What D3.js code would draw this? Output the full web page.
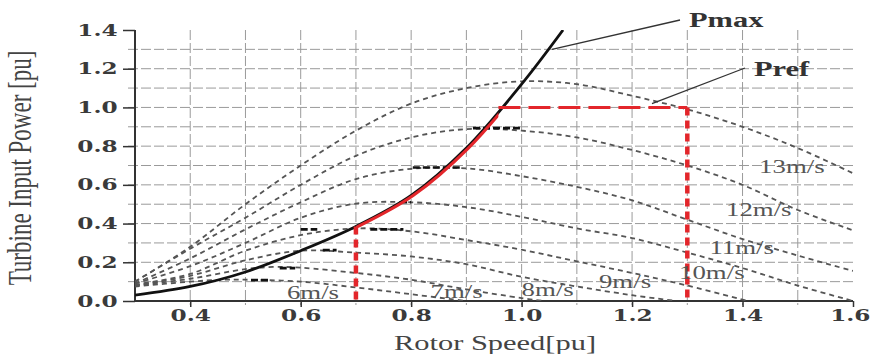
<!DOCTYPE html>
<html>
<head>
<meta charset="utf-8">
<script src="https://cdn.jsdelivr.net/npm/d3@7/dist/d3.min.js"></script>
<style>
  body { margin: 0; background: #fff; }
</style>
</head>
<body>
<div id="chart"></div>
<script>
// power curves: [rotor speed pu, power pu]
const v6 = [[0.3, 0.075], [0.4, 0.10], [0.46, 0.11], [0.5, 0.11], [0.6, 0.10], [0.7, 0.07], [0.8, 0.035], [0.9, 0]];
const v7 = [[0.3, 0.08], [0.4, 0.115], [0.5, 0.165], [0.55, 0.176], [0.6, 0.172], [0.7, 0.145], [0.8, 0.11], [0.9, 0.06], [1.0, 0.015], [1.04, 0]];
const v8 = [[0.3, 0.08], [0.4, 0.13], [0.5, 0.21], [0.6, 0.26], [0.7, 0.25], [0.8, 0.23], [0.9, 0.19], [1.0, 0.125], [1.1, 0.075], [1.2, 0.03], [1.28, 0]];
const v9 = [[0.3, 0.085], [0.4, 0.14], [0.5, 0.26], [0.6, 0.34], [0.7, 0.375], [0.8, 0.36], [0.9, 0.315], [1.0, 0.265], [1.1, 0.205], [1.2, 0.145], [1.3, 0.08], [1.41, 0]];
const v10 = [[0.3, 0.09], [0.4, 0.18], [0.5, 0.30], [0.6, 0.43], [0.7, 0.503], [0.8, 0.51], [0.9, 0.485], [1.0, 0.435], [1.1, 0.375], [1.2, 0.325], [1.3, 0.25], [1.4, 0.17], [1.5, 0.08], [1.6, 0]];
const v11 = [[0.3, 0.09], [0.4, 0.22], [0.5, 0.37], [0.6, 0.51], [0.7, 0.63], [0.8, 0.683], [0.9, 0.685], [1.0, 0.645], [1.1, 0.59], [1.2, 0.52], [1.3, 0.42], [1.4, 0.32], [1.5, 0.235], [1.6, 0.155]];
const v12 = [[0.3, 0.10], [0.4, 0.27], [0.5, 0.43], [0.6, 0.60], [0.7, 0.75], [0.8, 0.845], [0.9, 0.888], [1.0, 0.88], [1.1, 0.845], [1.2, 0.78], [1.3, 0.70], [1.4, 0.60], [1.5, 0.47], [1.6, 0.365]];
const v13 = [[0.3, 0.10], [0.4, 0.28], [0.5, 0.50], [0.6, 0.70], [0.7, 0.88], [0.8, 1.02], [0.9, 1.10], [1.0, 1.135], [1.1, 1.12], [1.2, 1.06], [1.3, 0.99], [1.4, 0.90], [1.5, 0.79], [1.6, 0.66]];
const pmax = [[0.3, 0.03], [0.4, 0.075], [0.5, 0.15], [0.6, 0.26], [0.7, 0.385], [0.8, 0.545], [0.9, 0.79], [1.0, 1.12], [1.075, 1.4]];

// darker dashes near each curve top: [from speed, to speed, power]
const peakMarks = [[0.51, 0.545, 0.108], [0.562, 0.59, 0.17], [0.64, 0.665, 0.263], [0.60, 0.63, 0.37], [0.726, 0.786, 0.37], [0.78, 0.80, 0.51], [0.803, 0.888, 0.69], [0.912, 0.997, 0.893]];

const windNames = ['6m/s', '7m/s', '8m/s', '9m/s', '10m/s', '11m/s', '12m/s', '13m/s'];
const windLabelAt = [[0.575, 0.01], [0.835, 0.015], [1.0, 0.026], [1.14, 0.067], [1.285, 0.114], [1.34, 0.243], [1.37, 0.44], [1.43, 0.66]];

const lowSpeed = 0.7;     // red vertical at start of tracking
const refSpeed = 1.3;     // red vertical at rated point
const prefLevel = 1.0;    // red horizontal Pref
const prefStart = 0.958;

const xTicks = [0.4, 0.6, 0.8, 1.0, 1.2, 1.4, 1.6];
const yTicks = [0.0, 0.2, 0.4, 0.6, 0.8, 1.0, 1.2, 1.4];
const xGrid = [0.4, 0.5, 0.6, 0.7, 0.8, 0.9, 1.0, 1.1, 1.2, 1.3, 1.4, 1.5];
const yGrid = [0.1, 0.2, 0.3, 0.4, 0.5, 0.6, 0.7, 0.8, 0.9, 1.0, 1.1, 1.2, 1.3];

const W = 872, H = 354;
const stretch = 1.45; // the picture is widened, text too

const svg = d3.select('#chart').append('svg').attr('width', W).attr('height', H);

const x = d3.scaleLinear().domain([0.3, 1.6]).range([135, 853]);
const y = d3.scaleLinear().domain([0, 1.4]).range([301, 30]);

const defs = svg.append('defs');
defs.append('clipPath').attr('id', 'plot')
  .append('rect').attr('x', x(0.3)).attr('y', y(1.4)).attr('width', x(1.6) - x(0.3)).attr('height', y(0) - y(1.4));
defs.append('clipPath').attr('id', 'track')
  .append('rect').attr('x', x(lowSpeed)).attr('y', y(1.4)).attr('width', x(prefStart) - x(lowSpeed)).attr('height', y(0) - y(1.4));

// grid
const grid = svg.append('g');
grid.selectAll('line.h').data(yGrid).enter().append('line')
  .attr('x1', x(0.3) - 7).attr('x2', x(1.6) + 2)
  .attr('y1', d => y(d)).attr('y2', d => y(d))
  .attr('stroke', '#9a9a9a').attr('stroke-width', 1).attr('stroke-dasharray', '10,3');
grid.selectAll('line.v').data(xGrid).enter().append('line')
  .attr('x1', d => x(d)).attr('x2', d => x(d))
  .attr('y1', y(1.4)).attr('y2', y(0) + 4)
  .attr('stroke', '#9a9a9a').attr('stroke-width', 1).attr('stroke-dasharray', '10,3');

// axes
const yAxis = svg.append('g').attr('transform', `translate(${x(0.3)},0)`)
  .call(d3.axisLeft(y).tickValues(yTicks).tickSize(12).tickFormat(d3.format('.1f')));
const xAxis = svg.append('g').attr('transform', `translate(0,${y(0)})`)
  .call(d3.axisBottom(x).tickValues(xTicks).tickSize(6).tickFormat(d3.format('.1f')));

[yAxis, xAxis].forEach(a => {
  a.select('.domain').attr('stroke', '#333').attr('stroke-width', 2);
  a.selectAll('.tick line').attr('stroke', '#333').attr('stroke-width', 1.5);
  a.selectAll('.tick text')
    .attr('fill', '#3a3a3a')
    .style('font-family', '"DejaVu Serif", serif')
    .style('font-weight', 'bold')
    .style('font-size', '16px')
    .attr('transform', `scale(${stretch},1)`);
});
yAxis.select('.domain').attr('d', `M0,${y(1.4)}V${y(0)}`);
yAxis.selectAll('.tick text').attr('x', -12);
xAxis.select('.domain').attr('d', `M${x(0.3)},0H${x(1.6)}`);
xAxis.selectAll('.tick text').attr('y', 9);
// last label sits at the right edge: pin its end inside the page
xAxis.selectAll('.tick text').filter(d => d === 1.6)
  .attr('text-anchor', 'end').attr('x', (W - 2 - x(1.6)) / stretch);

// wind speed curves
const line = d3.line().x(d => x(d[0])).y(d => y(d[1])).curve(d3.curveCatmullRom.alpha(0.5));
const curveSets = [v6, v7, v8, v9, v10, v11, v12, v13];
const plot = svg.append('g').attr('clip-path', 'url(#plot)');
plot.selectAll('path.wind').data(curveSets).enter().append('path')
  .attr('d', d => line(d))
  .attr('fill', 'none')
  .attr('stroke', '#555')
  .attr('stroke-width', 1.8)
  .attr('stroke-dasharray', '5,4');

plot.selectAll('line.peak').data(peakMarks).enter().append('line')
  .attr('x1', d => x(d[0])).attr('x2', d => x(d[1]))
  .attr('y1', d => y(d[2])).attr('y2', d => y(d[2]))
  .attr('stroke', '#111').attr('stroke-width', 2.6).attr('stroke-dasharray', '7,3');

// red tracking part along Pmax
svg.append('g').attr('clip-path', 'url(#track)').append('path')
  .attr('d', line(pmax))
  .attr('transform', 'translate(2,0)')
  .attr('fill', 'none').attr('stroke', '#e3262b').attr('stroke-width', 3);

// Pmax
plot.append('path')
  .attr('d', line(pmax))
  .attr('fill', 'none').attr('stroke', '#111').attr('stroke-width', 2.8);

// red reference lines
const red = svg.append('g').attr('stroke', '#e3262b').attr('fill', 'none');
red.append('line')
  .attr('x1', x(prefStart)).attr('x2', x(refSpeed))
  .attr('y1', y(prefLevel)).attr('y2', y(prefLevel))
  .attr('stroke-width', 3).attr('stroke-dasharray', '22,8');
red.append('line')
  .attr('x1', x(refSpeed)).attr('x2', x(refSpeed))
  .attr('y1', y(prefLevel)).attr('y2', y(0))
  .attr('stroke-width', 4.5).attr('stroke-dasharray', '8,5');
red.append('line')
  .attr('x1', x(lowSpeed)).attr('x2', x(lowSpeed))
  .attr('y1', y(0.385)).attr('y2', y(0))
  .attr('stroke-width', 4.5).attr('stroke-dasharray', '8,5');

// wind labels
svg.selectAll('text.wind').data(windNames).enter().append('text')
  .attr('transform', (d, i) => `translate(${x(windLabelAt[i][0])},${y(windLabelAt[i][1])}) scale(${stretch},1)`)
  .attr('fill', '#555')
  .style('font-family', '"Liberation Serif", serif')
  .style('font-size', '18.5px')
  .text(d => d);

// annotations
svg.append('line').attr('x1', x(1.055)).attr('y1', y(1.3)).attr('x2', 680).attr('y2', 20)
  .attr('stroke', '#333').attr('stroke-width', 1.3);
svg.append('line').attr('x1', x(1.236)).attr('y1', y(1.02)).attr('x2', 745).attr('y2', 68)
  .attr('stroke', '#333').attr('stroke-width', 1.3);
svg.append('text').attr('transform', `translate(689,27) scale(${stretch},1)`)
  .attr('fill', '#333').style('font-family', '"Liberation Serif", serif')
  .style('font-weight', 'bold').style('font-size', '21px').text('Pmax');
svg.append('text').attr('transform', `translate(754,76) scale(${stretch},1)`)
  .attr('fill', '#333').style('font-family', '"Liberation Serif", serif')
  .style('font-weight', 'bold').style('font-size', '21px').text('Pref');

// axis titles
svg.append('text')
  .attr('transform', `translate(31,168) scale(${stretch},1) rotate(-90)`)
  .attr('text-anchor', 'middle')
  .attr('fill', '#444')
  .style('font-family', '"Liberation Serif", serif')
  .style('font-size', '23px')
  .text('Turbine Input Power [pu]');
svg.append('text')
  .attr('transform', `translate(495,350) scale(${stretch},1)`)
  .attr('text-anchor', 'middle')
  .attr('fill', '#444')
  .style('font-family', '"Liberation Serif", serif')
  .style('font-size', '21px')
  .text('Rotor Speed[pu]');
</script>
</body>
</html>
